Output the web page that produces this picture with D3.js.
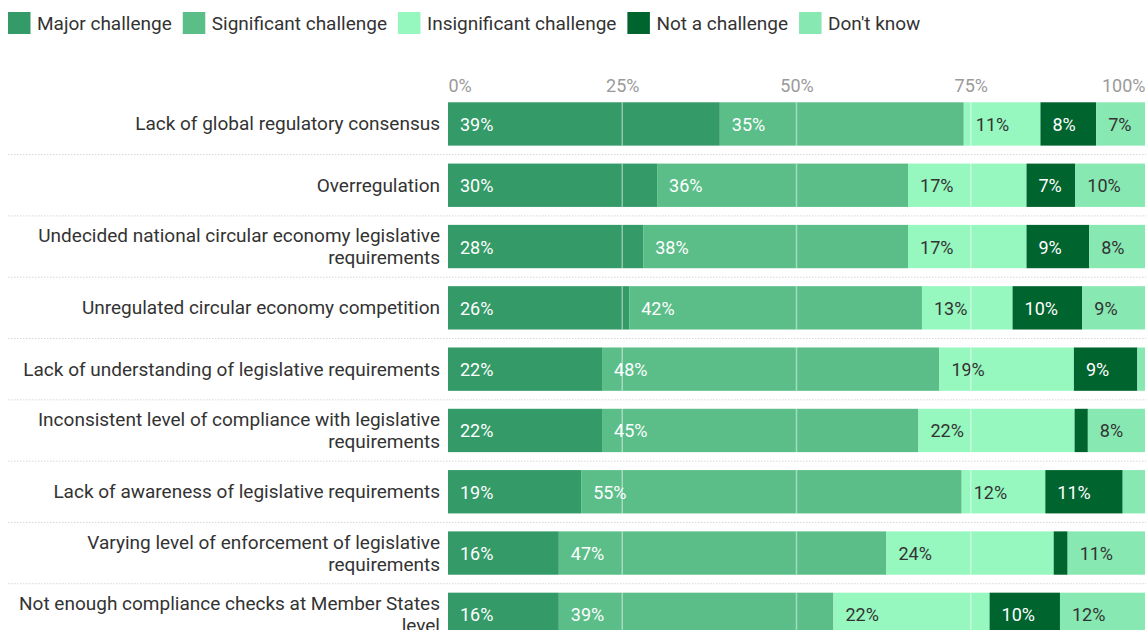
<!DOCTYPE html>
<html>
<head>
<meta charset="utf-8">
<script src="https://cdn.jsdelivr.net/npm/d3@7"></script>
<style>
  html, body { margin: 0; padding: 0; background: #fff; }
  svg { display: block; font-family: Roboto, "Noto Sans", sans-serif; }
</style>
</head>
<body>
<svg id="chart" width="1146" height="630"></svg>
<script>
// Survey answers: how challenging each issue is (share of respondents, %)
const categories = [
  "Lack of global regulatory consensus",
  "Overregulation",
  "Undecided national circular economy legislative requirements",
  "Unregulated circular economy competition",
  "Lack of understanding of legislative requirements",
  "Inconsistent level of compliance with legislative requirements",
  "Lack of awareness of legislative requirements",
  "Varying level of enforcement of legislative requirements",
  "Not enough compliance checks at Member States level"
];
const seriesNames = ["Major challenge", "Significant challenge", "Insignificant challenge", "Not a challenge", "Don't know"];
const majorChallenge        = [39, 30, 28, 26, 22.1, 22.1, 19.1, 15.9, 15.9];
const significantChallenge  = [35, 36, 38, 42, 48.4, 45.4, 54.6, 47.0, 39.4];
const insignificantChallenge= [11, 17, 17, 13, 19.3, 22.4, 12.0, 24.0, 22.4];
const notAChallenge         = [8, 7, 9, 10, 9.1, 1.9, 11.1, 2.0, 10.1];
const dontKnow              = [7, 10, 8, 9, 1.1, 8.2, 3.2, 11.1, 12.2];
const xTicks = [0, 25, 50, 75, 100];

const seriesValues = [majorChallenge, significantChallenge, insignificantChallenge, notAChallenge, dontKnow];
const colors = ["#349a67", "#5bbe89", "#96f7bf", "#00642f", "#87e8b2"];
const labelColors = ["#ffffff", "#ffffff", "#333333", "#ffffff", "#333333"];

const svg = d3.select("#chart");

// ---- legend ----
const legend = svg.append("g");
let lx = 8;
seriesNames.forEach((name, i) => {
  legend.append("rect")
    .attr("x", lx).attr("y", 12)
    .attr("width", 22.5).attr("height", 22)
    .attr("fill", colors[i]);
  const t = legend.append("text")
    .attr("x", lx + 29).attr("y", 29.5)
    .attr("font-size", 19).attr("fill", "#333")
    .text(name);
  lx = lx + 29 + t.node().getComputedTextLength() + 11;
});

// ---- scales ----
const x = d3.scaleLinear().domain([0, 100]).range([448, 1145]);
const y = d3.scaleBand().domain(categories).range([93.3, 93.3 + 61.3 * 9])
  .paddingInner(0.293).paddingOuter(0.1465);

// stacked layout
const rows = categories.map((c, i) => {
  const row = { category: c };
  seriesNames.forEach((s, k) => row[s] = seriesValues[k][i]);
  return row;
});
const stack = d3.stack().keys(seriesNames)(rows);

// ---- axis tick labels (top) ----
const axis = d3.axisTop(x).tickValues(xTicks).tickFormat(d => d + "%").tickSize(0).tickPadding(0);
const axisG = svg.append("g").attr("transform", "translate(0,92)").call(axis);
axisG.select(".domain").remove();
axisG.selectAll("text")
  .attr("font-size", 18).attr("font-family", "Roboto, sans-serif")
  .attr("fill", "#9a9a9a").attr("dy", 0)
  .attr("text-anchor", d => d === 0 ? "start" : d === 100 ? "end" : "middle");

// ---- row separators ----
const sepG = svg.append("g");
categories.slice(0, -1).forEach(c => {
  const yy = y(c) + y.bandwidth() + 9;
  sepG.append("line")
    .attr("x1", 8).attr("x2", 1146)
    .attr("y1", yy).attr("y2", yy)
    .attr("stroke", "#d6d6d6").attr("stroke-width", 1)
    .attr("stroke-dasharray", "1.5,1.5");
});

// ---- bars ----
const barsG = svg.append("g");
stack.forEach((layer, k) => {
  barsG.append("g").selectAll("rect")
    .data(layer)
    .join("rect")
    .attr("x", d => x(d[0]))
    .attr("y", d => y(d.data.category))
    .attr("width", d => x(d[1]) - x(d[0]))
    .attr("height", y.bandwidth())
    .attr("fill", colors[k]);
});

// ---- value labels ----
const labelsG = svg.append("g");
stack.forEach((layer, k) => {
  labelsG.append("g").selectAll("text")
    .data(layer.filter(d => d[1] - d[0] >= 4))
    .join("text")
    .attr("x", d => x(d[0]) + 12)
    .attr("y", d => y(d.data.category) + y.bandwidth() / 2 + 7)
    .attr("font-size", 18)
    .attr("fill", labelColors[k])
    .text(d => Math.round(d[1] - d[0]) + "%");
});

// ---- gridlines over bars ----
const gridG = svg.append("g");
[25, 50, 75].forEach(v => {
  categories.forEach(c => {
    gridG.append("line")
      .attr("x1", x(v)).attr("x2", x(v))
      .attr("y1", y(c)).attr("y2", y(c) + y.bandwidth())
      .attr("stroke", "#ffffff").attr("stroke-opacity", 0.45)
      .attr("stroke-width", 1.5);
  });
});

// ---- category labels (wrapped, right aligned) ----
const catG = svg.append("g");
const maxWidth = 440;
categories.forEach(c => {
  const words = c.split(" ");
  const probe = catG.append("text").attr("font-size", 19);
  const lines = [];
  let line = [];
  words.forEach(w => {
    const test = line.concat([w]).join(" ");
    probe.text(test);
    if (probe.node().getComputedTextLength() > maxWidth && line.length) {
      lines.push(line.join(" "));
      line = [w];
    } else {
      line.push(w);
    }
  });
  lines.push(line.join(" "));
  probe.remove();

  const cy = y(c) + y.bandwidth() / 2;
  const lh = 22;
  const t = catG.append("text")
    .attr("font-size", 19).attr("fill", "#333")
    .attr("text-anchor", "end");
  lines.forEach((l, i) => {
    t.append("tspan")
      .attr("x", 440)
      .attr("y", cy + 6.5 + (i - (lines.length - 1) / 2) * lh)
      .text(l);
  });
});
</script>
</body>
</html>
